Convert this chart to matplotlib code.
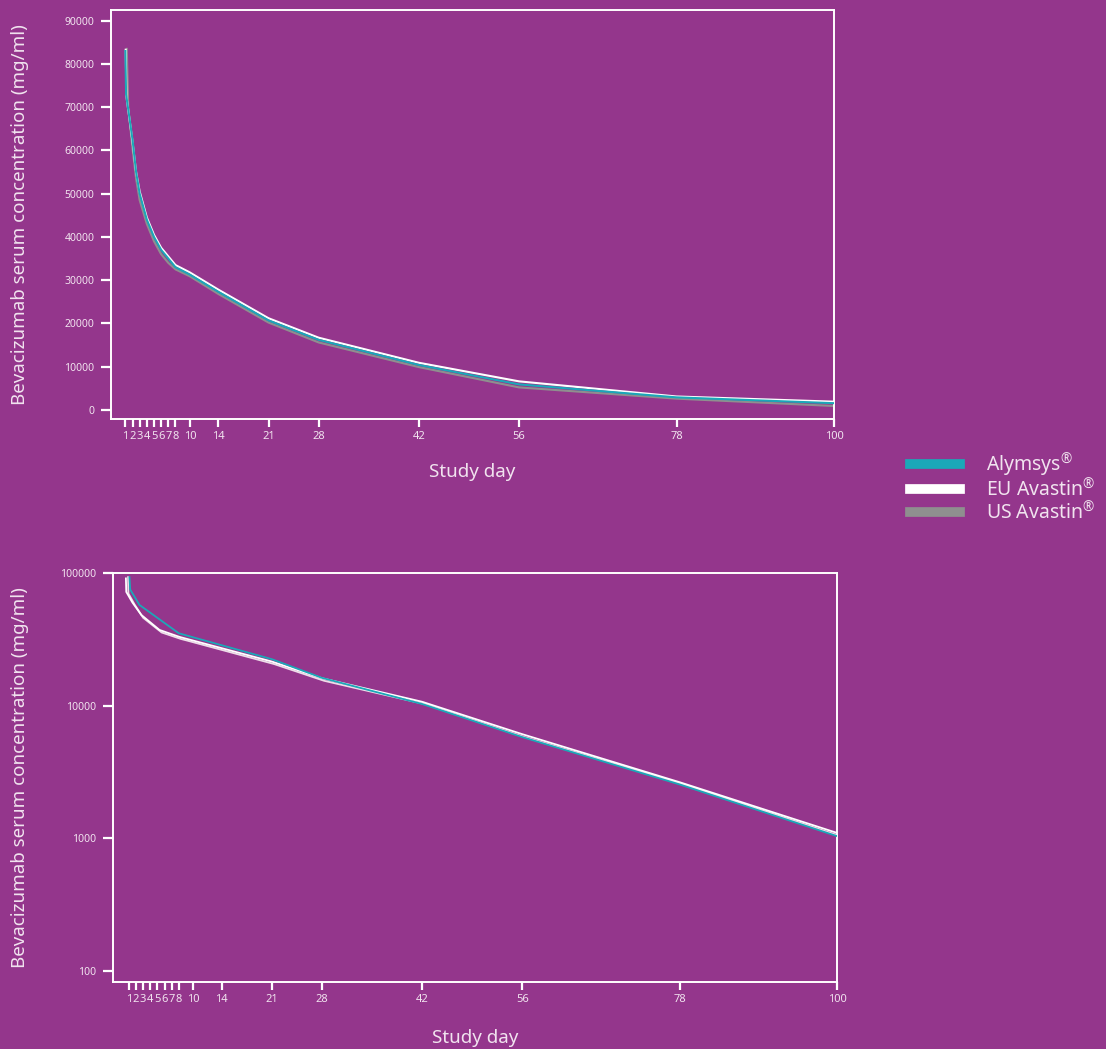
"""
Bevacizumab serum concentration vs study day - linear and log panels
"""
import matplotlib.pyplot as plt
from matplotlib.lines import Line2D

plt.rcParams['font.family'] = ['Noto Sans', 'DejaVu Sans']
plt.rcParams['mathtext.fontset'] = 'custom'
plt.rcParams['mathtext.rm'] = 'Noto Sans'
plt.rcParams['mathtext.default'] = 'regular'

colors = {
    'bg': '#94368c',
    'alymsys': '#1ba8b8',
    'eu': '#ffffff',
    'us': '#8f8f8f',
    'us_log': '#eedde9',
    'text': '#f1e3ef',
    'axis': '#ffffff',
}

# ---- linear panel data ----
lin_days_aly = [1.0, 1.1, 2, 2.5, 3, 4, 5, 6, 7, 8, 10, 14, 21, 28, 42, 56, 78, 100]
lin_aly = [83000, 73000, 62500, 55000, 50000, 44000, 40000, 37000, 35000, 33000,
           31300, 27300, 20700, 16200, 10400, 5900, 2900, 1550]

lin_days_eu = [1.05, 1.15, 2, 2.5, 3, 4, 5, 6, 7, 8, 10, 14, 21, 28, 42, 56, 78, 100]
lin_eu = [83300, 72500, 62000, 55000, 50500, 44500, 40500, 37500, 35500, 33500,
          31800, 27800, 21200, 16700, 10900, 6600, 3100, 1900]

lin_days_us = [1.2, 1.4, 2, 2.5, 3, 4, 5, 6, 7, 8, 10, 14, 21, 28, 42, 56, 78, 100]
lin_us = [83500, 70000, 60500, 53500, 48500, 43000, 39000, 36000, 34000, 32500,
          30900, 26800, 20200, 15600, 9900, 5200, 2600, 900]

# ---- log panel data ----
log_days_aly = [1.1, 1.2, 2.5, 8, 21, 28, 42, 56, 78, 100]
log_aly = [93000, 75000, 57400, 35100, 22400, 16200, 10300, 5800, 2550, 1040]

log_days_eu = [0.6, 0.65, 1.5, 2.75, 5.3, 8, 8.8, 21, 28, 42, 56, 78, 100]
log_eu = [91000, 72000, 60000, 48300, 37200, 33100, 32200, 21500, 16100, 10700,
          6100, 2650, 1100]

log_days_us = [0.9, 0.95, 1.8, 3.0, 5.6, 8.3, 9.1, 21.3, 28.3, 42.3, 56.3, 78.3, 100]
log_us = [93000, 70000, 58000, 46000, 35600, 31800, 31000, 20600, 15400, 10300,
          5800, 2580, 1060]

xticks = [1, 2, 3, 4, 5, 6, 7, 8, 10, 14, 21, 28, 42, 56, 78, 100]
lin_yticks = [0, 10000, 20000, 30000, 40000, 50000, 60000, 70000, 80000, 90000]
log_yticks = [100, 1000, 10000, 100000]

fig = plt.figure(figsize=(11.06, 10.49), dpi=100)
fig.patch.set_facecolor(colors['bg'])

ax1 = fig.add_axes([0.1004, 0.6006, 0.6537, 0.3899])
ax2 = fig.add_axes([0.1022, 0.0639, 0.6546, 0.3899])


def style_axis(ax, ylab_x, xlab_y):
    ax.set_facecolor(colors['bg'])
    for sp in ax.spines.values():
        sp.set_color(colors['axis'])
        sp.set_linewidth(1.4)
    ax.set_xticks(xticks)
    ax.set_xticklabels([str(d) for d in xticks])
    ax.tick_params(axis='x', direction='out', length=6, width=1.6,
                   colors=colors['axis'], labelcolor=colors['text'],
                   labelsize=8, pad=3)
    ax.tick_params(axis='y', direction='out', length=7, width=1.6,
                   colors=colors['axis'], labelcolor=colors['text'],
                   labelsize=7.5, pad=5)
    ax.set_ylabel('Bevacizumab serum concentration (mg/ml)', fontsize=13.5,
                  color=colors['text'])
    ax.yaxis.set_label_coords(ylab_x, 0.5)
    ax.set_xlabel('Study day', fontsize=13.5, color=colors['text'])
    ax.xaxis.set_label_coords(0.5, xlab_y)


# top: linear scale
ax1.plot(lin_days_us, lin_us, color=colors['us'], lw=1.5, zorder=2)
ax1.plot(lin_days_eu, lin_eu, color=colors['eu'], lw=1.5, zorder=3)
ax1.plot(lin_days_aly, lin_aly, color=colors['alymsys'], lw=1.5, zorder=4)
style_axis(ax1, -0.113, -0.108)
ax1.set_xlim(-1, 100)
ax1.set_ylim(-2100, 92500)
ax1.set_yticks(lin_yticks)
ax1.set_yticklabels([str(v) for v in lin_yticks])

# bottom: log scale
ax2.plot(log_days_us, log_us, color=colors['us_log'], lw=1.3, zorder=2)
ax2.plot(log_days_eu, log_eu, color=colors['eu'], lw=1.3, zorder=3)
ax2.plot(log_days_aly, log_aly, color=colors['alymsys'], lw=1.3, zorder=4)
ax2.set_yscale('log')
style_axis(ax2, -0.116, -0.115)
ax2.set_xlim(-1.2, 100)
ax2.set_ylim(82.8, 100000)
ax2.set_yticks(log_yticks)
ax2.set_yticklabels([str(v) for v in log_yticks])
ax2.minorticks_off()

# legend
handles = [Line2D([], [], color=colors['alymsys'], lw=7),
           Line2D([], [], color=colors['eu'], lw=7),
           Line2D([], [], color=colors['us'], lw=7)]
labels = ['Alymsys$^{\u00ae}$', 'EU Avastin$^{\u00ae}$', 'US Avastin$^{\u00ae}$']
leg = fig.legend(handles, labels, loc='upper left',
                 bbox_to_anchor=(902 / 1106, 1 - 442 / 1049),
                 frameon=False, fontsize=14, handlelength=2.6,
                 handletextpad=1.3, labelspacing=0.02, borderaxespad=0)
for t in leg.get_texts():
    t.set_color(colors['text'])

plt.savefig('out.png', dpi=100, facecolor=colors['bg'])
